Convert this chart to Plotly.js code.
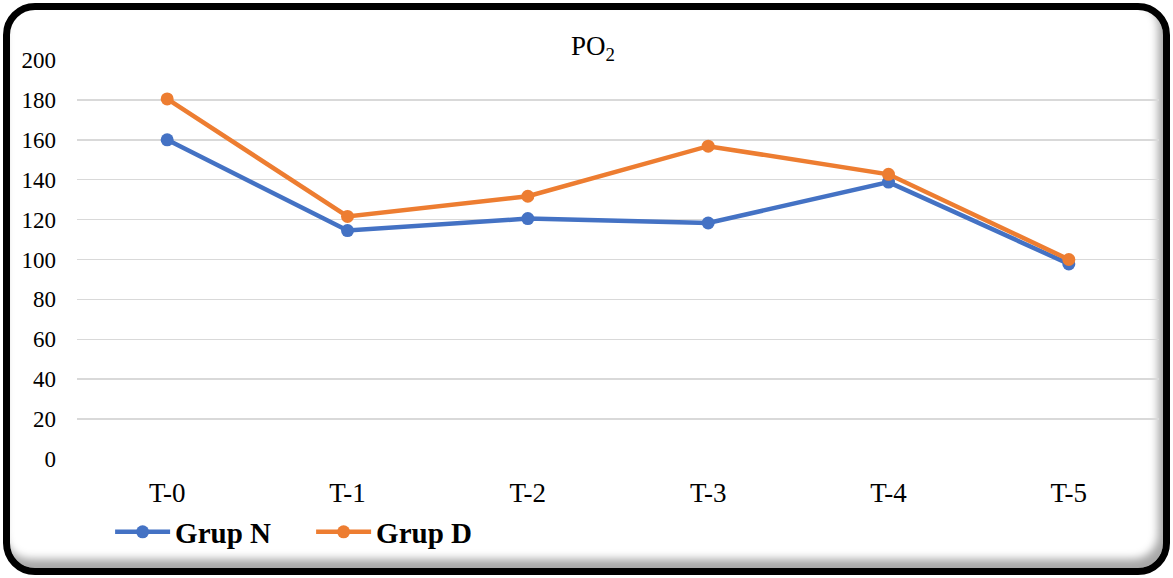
<!DOCTYPE html>
<html>
<head>
<meta charset="utf-8">
<script src="https://cdn.plot.ly/plotly-3.0.1.min.js"></script>
<style>
  html, body { margin: 0; padding: 0; background: #ffffff; }
  #frame {
    position: absolute; left: 3px; top: 3px; width: 1167px; height: 572px;
    box-sizing: border-box; border: 7px solid #000; border-radius: 32px;
    background: #fff;
    box-shadow: inset -5px -9px 9px rgba(0,0,0,0.35);
    z-index: 0;
  }
  #chart { position: absolute; left: 0; top: 0; width: 1173px; height: 578px; z-index: 1; }
</style>
</head>
<body>
<div id="frame"></div>
<div id="chart"></div>
<script>
const categories = ["T-0", "T-1", "T-2", "T-3", "T-4", "T-5"];
const grupN = [160, 114.5, 120.5, 118.3, 138.8, 97.8];
const grupD = [180.5, 121.6, 131.7, 156.8, 142.7, 100];
const yTicks = [0, 20, 40, 60, 80, 100, 120, 140, 160, 180, 200];

const serif = "Liberation Serif";

const traces = [
  {
    x: categories, y: grupN, name: "Grup N", type: "scatter", mode: "lines+markers",
    line: { color: "#4472C4", width: 4.5 },
    marker: { color: "#4472C4", size: 13 }
  },
  {
    x: categories, y: grupD, name: "Grup D", type: "scatter", mode: "lines+markers",
    line: { color: "#ED7D31", width: 4.5 },
    marker: { color: "#ED7D31", size: 13 }
  }
];

const layout = {
  width: 1173, height: 578,
  paper_bgcolor: "rgba(0,0,0,0)", plot_bgcolor: "rgba(0,0,0,0)",
  margin: { l: 77, r: 14, t: 60, b: 119, pad: 0 },
  font: { family: serif, color: "#000" },
  title: {
    text: "PO<sub>2</sub>", font: { family: serif, size: 27, color: "#000" },
    xref: "container", x: 0.5055, xanchor: "center",
    yref: "container", y: 1 - 46 / 578, yanchor: "middle"
  },
  xaxis: {
    type: "category", range: [-0.5, 5.5], showgrid: false, zeroline: false, showline: false, ticks: "",
    tickfont: { family: serif, size: 27, color: "#000" },
    ticklabelstandoff: 15
  },
  yaxis: {
    range: [0, 200], tickvals: yTicks, ticktext: yTicks.map(String),
    showgrid: true, gridcolor: "#d9d9d9", gridwidth: 1.5, zeroline: false, showline: false, ticks: "",
    tickfont: { family: serif, size: 23, color: "#000" },
    ticklabelstandoff: 20
  },
  legend: {
    orientation: "h", x: 0.0306, xanchor: "left", y: -0.183, yanchor: "middle",
    font: { family: serif, size: 29, color: "#000", weight: "bold" },
    bgcolor: "rgba(0,0,0,0)", itemwidth: 55, entrywidth: 131, entrywidthmode: "pixels"
  },
  showlegend: true
};

Plotly.newPlot("chart", traces, layout, { displayModeBar: false, staticPlot: true });
</script>
</body>
</html>
